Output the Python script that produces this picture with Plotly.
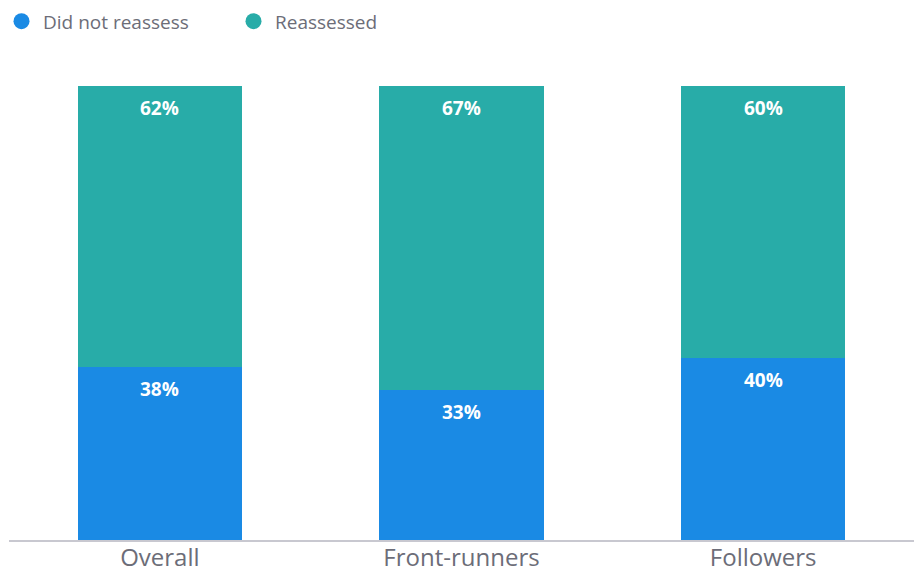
import plotly.graph_objects as go

categories = ["Overall", "Front-runners", "Followers"]
did_not_reassess = [38, 33, 40]
reassessed = [62, 67, 60]

series_names = ["Did not reassess", "Reassessed"]
series_colors = ["#1a8ae4", "#28aca8"]

fig = go.Figure()

for name, values, color in zip(series_names, [did_not_reassess, reassessed], series_colors):
    fig.add_trace(go.Bar(
        x=categories, y=values, name=name,
        marker=dict(color=color, line=dict(width=0)),
        showlegend=False, hoverinfo="skip",
    ))

# legend entries with round markers
for name, color in zip(series_names, series_colors):
    fig.add_trace(go.Scatter(
        x=[None], y=[None], mode="markers", name=name,
        marker=dict(symbol="circle", size=19, color=color),
        showlegend=True,
    ))

# value labels near the top of each segment
annotations = []
base = [0] * len(categories)
for values in [did_not_reassess, reassessed]:
    for i, (cat, v) in enumerate(zip(categories, values)):
        top = base[i] + v
        annotations.append(dict(
            x=cat, y=top, xref="x", yref="y",
            text=f"{v}%", showarrow=False,
            yanchor="middle", yshift=-22,
            font=dict(family="Open Sans, sans-serif", size=19, color="white", weight="bold"),
        ))
        base[i] = top

fig.update_layout(
    barmode="stack",
    bargap=0.455,
    width=914, height=572,
    margin=dict(l=9, r=0, t=86, b=32),
    paper_bgcolor="white", plot_bgcolor="white",
    font=dict(family="Open Sans, sans-serif", color="#6c6d78"),
    legend=dict(
        orientation="h", traceorder="normal",
        x=-0.011, y=0.996, xanchor="left", yanchor="top",
        xref="container", yref="container",
        font=dict(size=19, color="#6c6d78"),
        itemwidth=33, tracegroupgap=0,
        entrywidth=184, entrywidthmode="pixels",
    ),
    annotations=annotations,
    xaxis=dict(
        showgrid=False, showline=True, linecolor="#c8c8d0", linewidth=2,
        ticks="", tickfont=dict(size=24, color="#6c6d78"), automargin=False,
        ticklabelstandoff=-5,
    ),
    yaxis=dict(range=[0, 100], visible=False, fixedrange=True, automargin=False),
)

fig.write_html("out.html")
